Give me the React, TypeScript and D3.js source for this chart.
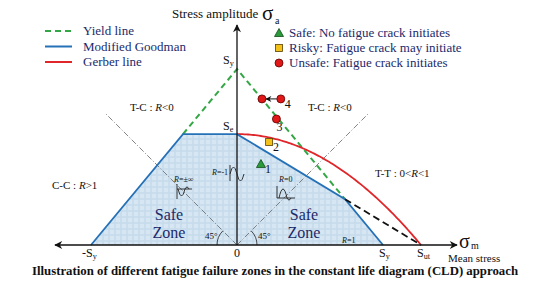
import React, { useEffect, useRef } from "react";
import * as d3 from "d3";

// material strengths (normalised to the yield strength)
const strengthNames = ["Sy", "Se", "Sut"];
const strengthValues = [1, 0.63, 1.26];

// mean-stress axis tick labels
const tickLabels = [
  { main: "-S", sub: "y", value: -1 },
  { main: "0", sub: "", value: 0 },
  { main: "S", sub: "y", value: 1 },
  { main: "S", sub: "ut", value: 1.26 },
];

// test points (mean, amplitude)
const pointIds = ["1", "2", "3", "4a", "4b"];
const pointKinds = ["safe", "risky", "unsafe", "unsafe", "unsafe"];
const pointMean = [0.164, 0.22, 0.27, 0.171, 0.3];
const pointAmp = [0.46, 0.585, 0.716, 0.83, 0.83];

const lineLegend = ["Yield line", "Modified Goodman", "Gerber line"];
const pointLegend = [
  "Safe: No fatigue crack initiates",
  "Risky: Fatigue crack may initiate",
  "Unsafe: Fatigue crack initiates",
];

const NAVY = "#1c2a6a";
const GREEN = "#33a645";
const BLUE = "#2571b8";
const RED = "#e0262a";

const App = () => {
  const ref = useRef<SVGSVGElement>(null);

  useEffect(() => {
    const svg = d3.select(ref.current);
    svg.selectAll("*").remove();

    const S = Object.fromEntries(strengthNames.map((n, i) => [n, strengthValues[i]]));
    const x = d3.scaleLinear().domain([0, 1]).range([237, 383]);
    const y = d3.scaleLinear().domain([0, 1]).range([245, 69]);
    const x0 = x(0), y0 = y(0);
    const serif = "Liberation Serif, Times New Roman, DejaVu Serif, serif";

    const defs = svg.append("defs");
    const pat = defs.append("pattern").attr("id", "plaid")
      .attr("width", 6).attr("height", 6).attr("patternUnits", "userSpaceOnUse");
    pat.append("rect").attr("width", 6).attr("height", 6).attr("fill", "#d6e6f2");
    pat.append("rect").attr("width", 6).attr("height", 2).attr("fill", "#c6dbeb").attr("opacity", 0.8);
    pat.append("rect").attr("width", 2).attr("height", 6).attr("fill", "#c6dbeb").attr("opacity", 0.8);
    defs.append("marker").attr("id", "arr").attr("viewBox", "0 0 10 10")
      .attr("refX", 9).attr("refY", 5).attr("markerWidth", 10).attr("markerHeight", 8)
      .attr("markerUnits", "userSpaceOnUse").attr("orient", "auto-start-reverse")
      .append("path").attr("d", "M0,0 L10,5 L0,10 L3,5 Z").attr("fill", "#111");
    defs.append("marker").attr("id", "arrs").attr("viewBox", "0 0 10 10")
      .attr("refX", 9).attr("refY", 5).attr("markerWidth", 7).attr("markerHeight", 6)
      .attr("markerUnits", "userSpaceOnUse").attr("orient", "auto")
      .append("path").attr("d", "M0,0 L10,5 L0,10 L3,5 Z").attr("fill", "#111");

    // safe zone
    const mStar = (S.Sy - S.Se) / (1 - S.Se / S.Sut);
    const goodman = (m: number) => S.Se * (1 - m / S.Sut);
    const zone: [number, number][] = [
      [-S.Sy, 0], [-(S.Sy - S.Se), S.Se], [0, S.Se], [mStar, goodman(mStar)], [S.Sy, 0],
    ];
    const line = d3.line<[number, number]>().x(d => x(d[0])).y(d => y(d[1]));
    svg.append("path").attr("d", line(zone) + "Z").attr("fill", "url(#plaid)");

    // R-ratio guide lines at 45 degrees
    const L = 187;
    [-1, 1].forEach(s => {
      svg.append("line").attr("x1", x0).attr("y1", y0)
        .attr("x2", x0 + s * L * Math.SQRT1_2).attr("y2", y0 - L * Math.SQRT1_2)
        .attr("stroke", "#666").attr("stroke-width", 0.8).attr("stroke-dasharray", "6,2,1,2");
      const r = 20;
      svg.append("path")
        .attr("d", `M${x0 + s * r},${y0} A${r},${r} 0 0 ${s > 0 ? 0 : 1} ${x0 + s * r * Math.SQRT1_2},${y0 - r * Math.SQRT1_2}`)
        .attr("fill", "none").attr("stroke", "#222").attr("stroke-width", 0.8);
    });

    // yield line (green dashed)
    svg.append("path").attr("d", line([[-(S.Sy - S.Se), S.Se], [0, S.Sy], [mStar, goodman(mStar)]]))
      .attr("fill", "none").attr("stroke", GREEN).attr("stroke-width", 2).attr("stroke-dasharray", "6,4");

    // Gerber
    const gm = d3.range(0, 101).map(i => (i / 100) * S.Sut);
    svg.append("path").attr("d", line(gm.map(m => [m, S.Se * (1 - (m / S.Sut) ** 2)])))
      .attr("fill", "none").attr("stroke", RED).attr("stroke-width", 1.8);

    // modified Goodman
    svg.append("path").attr("d", line(zone))
      .attr("fill", "none").attr("stroke", BLUE).attr("stroke-width", 1.8);
    svg.append("path").attr("d", line([[mStar, goodman(mStar)], [S.Sut, 0]]))
      .attr("fill", "none").attr("stroke", "#111").attr("stroke-width", 1.8).attr("stroke-dasharray", "7,4");

    // axes
    svg.append("line").attr("x1", 457).attr("y1", y0).attr("x2", 55).attr("y2", y0)
      .attr("stroke", "#111").attr("stroke-width", 1.3)
      .attr("marker-start", "url(#arr)").attr("marker-end", "url(#arr)");
    svg.append("line").attr("x1", x0).attr("y1", y0).attr("x2", x0).attr("y2", 25)
      .attr("stroke", "#111").attr("stroke-width", 1.3).attr("marker-end", "url(#arr)");

    const txt = (tx: number, ty: number, s: string, size = 12, fill = "#111", anchor = "start") =>
      svg.append("text").attr("x", tx).attr("y", ty).style("font-family", serif)
        .attr("font-size", size).attr("fill", fill).attr("text-anchor", anchor).text(s);
    const sub = (tx: number, ty: number, m: string, sb: string, size = 12) => {
      const t = svg.append("text").attr("x", tx).attr("y", ty).style("font-family", serif)
        .attr("font-size", size).attr("fill", "#111");
      t.append("tspan").text(m);
      t.append("tspan").attr("dy", 2).attr("font-size", size * 0.68).text(sb);
      return t;
    };

    // tick labels
    tickLabels.forEach(t => {
      if (t.sub) sub(x(t.value) + (t.value < 0 ? -9 : -4), 257, t.main, t.sub, 12);
      else txt(x(t.value), 257, t.main, 12, "#111", "middle");
    });
    sub(223, 64, "S", "y", 12);
    sub(223, 130, "S", "e", 12);

    // axis titles
    txt(172, 18, "Stress amplitude", 13);
    txt(262, 20, "σ", 21);
    txt(275, 24, "a", 10);
    txt(459, 248, "σ", 20);
    txt(471, 249, "m", 10);
    txt(448, 262, "Mean stress", 11);

    // region labels
    const itl = (tx: number, ty: number, parts: [string, boolean][], size = 11) => {
      const t = svg.append("text").attr("x", tx).attr("y", ty).style("font-family", serif)
        .attr("font-size", size).attr("fill", "#111");
      parts.forEach(([s, i]) => t.append("tspan").attr("font-style", i ? "italic" : "normal").text(s));
    };
    itl(130, 111, [["T-C : ", false], ["R", true], ["<0", false]]);
    itl(308, 111, [["T-C : ", false], ["R", true], ["<0", false]]);
    itl(52, 189, [["C-C : ", false], ["R", true], [">1", false]]);
    itl(375, 177, [["T-T : 0<", false], ["R", true], ["<1", false]]);
    itl(174, 182, [["R", true], ["=±∞", false]], 8);
    itl(212, 175, [["R", true], ["=-1", false]], 8);
    itl(279, 182, [["R", true], ["=0", false]], 8);
    itl(342, 243, [["R", true], ["=1", false]], 8);
    txt(205, 239, "45°", 9);
    txt(258, 239, "45°", 9);

    [169, 304].forEach(cx => {
      txt(cx, 220, "Safe", 16, NAVY, "middle");
      txt(cx, 238, "Zone", 16, NAVY, "middle");
    });

    // load-cycle glyphs
    const glyph = (d: string) => svg.append("path").attr("d", d).attr("fill", "none")
      .attr("stroke", "#222").attr("stroke-width", 0.9);
    glyph("M230,165 V181 M230,174 q3.5,-14 7,0 t7,0");
    glyph("M177,184 V199 M177,189 H192 M178,189 q3.5,14 7,0 q2,-4 4,0");
    glyph("M277,186 V198 H295 M279,198 q4,-18 8,0 q2,4 4,0");

    // test points
    const pts = pointIds.map((id, i) => ({ id, kind: pointKinds[i], px: x(pointMean[i]), py: y(pointAmp[i]) }));
    svg.append("line").attr("x1", pts[4].px - 4).attr("y1", pts[4].py).attr("x2", pts[3].px + 4).attr("y2", pts[3].py)
      .attr("stroke", "#111").attr("stroke-width", 1).attr("marker-end", "url(#arrs)");
    const marker = (kind: string, cx: number, cy: number) => {
      if (kind === "safe")
        svg.append("path").attr("d", `M${cx},${cy - 4.5} L${cx + 4.5},${cy + 3.5} L${cx - 4.5},${cy + 3.5} Z`)
          .attr("fill", "#2a9a3a").attr("stroke", "#124a1a").attr("stroke-width", 0.8);
      else if (kind === "risky")
        svg.append("rect").attr("x", cx - 3.5).attr("y", cy - 3.5).attr("width", 7).attr("height", 7)
          .attr("fill", "#f3c21a").attr("stroke", "#5a4000").attr("stroke-width", 0.8);
      else
        svg.append("circle").attr("cx", cx).attr("cy", cy).attr("r", 4)
          .attr("fill", "#e01818").attr("stroke", "#5a0000").attr("stroke-width", 0.8);
    };
    pts.forEach(p => marker(p.kind, p.px, p.py));
    const lbl = [["1", 0], ["2", 1], ["3", 2], ["4", 4]] as [string, number][];
    lbl.forEach(([s, i]) => txt(pts[i].px + (i === 2 ? 0 : 4), pts[i].py + (i === 2 ? 12 : 9), s, 12));

    // legends
    lineLegend.forEach((s, i) => {
      const ly = 31 + i * 15.5;
      svg.append("line").attr("x1", 45).attr("x2", 72).attr("y1", ly).attr("y2", ly)
        .attr("stroke", [GREEN, BLUE, RED][i]).attr("stroke-width", 2)
        .attr("stroke-dasharray", i === 0 ? "6,4" : null);
      txt(83, ly + 4, s, 13, NAVY);
    });
    pointLegend.forEach((s, i) => {
      const ly = 33 + i * 15;
      marker(["safe", "risky", "unsafe"][i], 279, ly);
      txt(289, ly + 4, s, 13, NAVY);
    });

    // title
    svg.append("text").attr("x", 275).attr("y", 275).attr("text-anchor", "middle")
      .style("font-family", serif).attr("font-weight", "bold").attr("font-size", 12.5)
      .attr("textLength", 486).attr("lengthAdjust", "spacingAndGlyphs").attr("fill", "#111")
      .text("Illustration of different fatigue failure zones in the constant life diagram (CLD) approach");
  }, []);

  return (
    <svg ref={ref} width={550} height={293}
      style={{ position: "absolute", left: 0, top: 0, background: "#fff" }} />
  );
};

export default App;
